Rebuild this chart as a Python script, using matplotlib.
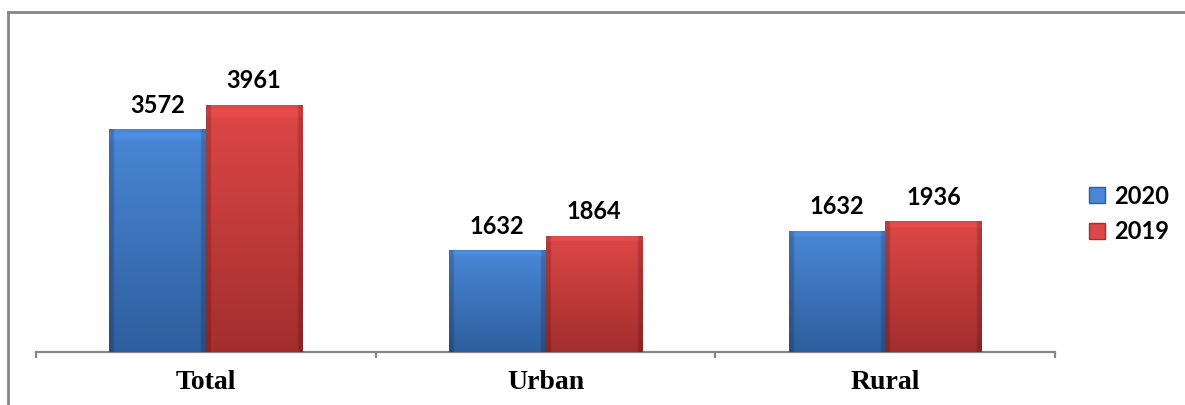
import numpy as np
import matplotlib.pyplot as plt
from matplotlib.lines import Line2D
from matplotlib.patches import Patch

categories = ["Total", "Urban", "Rural"]
years = ["2020", "2019"]
values_2020 = [3572, 1632, 1940]
values_2019 = [3961, 1864, 2097]
labels_2020 = ["3572", "1632", "1632"]
labels_2019 = ["3961", "1864", "1936"]

W, H = 1185, 405
fig = plt.figure(figsize=(W / 100, H / 100), dpi=100)
ax = fig.add_axes([36 / W, (H - 352) / H, (1055 - 36) / W, (352 - 20) / H])

top_cols = {"2020": (0.29, 0.53, 0.84), "2019": (0.87, 0.28, 0.28)}
bot_cols = {"2020": (0.18, 0.37, 0.62), "2019": (0.64, 0.18, 0.18)}


def gradient(top, bot):
    t = np.linspace(0, 1, 60)[:, None, None]
    img = np.array(top)[None, None, :] * (1 - t) + np.array(bot)[None, None, :] * t
    img = np.repeat(img, 40, axis=1)
    # darker side edges for the bevel look
    sx = np.ones(40)
    sx[:2] = 0.82
    sx[-2:] = 0.82
    img = img * sx[None, :, None]
    img[1:3] = np.clip(img[1:3] * 1.06, 0, 1)
    return np.clip(img, 0, 1)


x = np.arange(len(categories))
bw = 0.284
for vals, labs, yr, off in [(values_2020, labels_2020, "2020", -bw / 2),
                             (values_2019, labels_2019, "2019", bw / 2)]:
    bars = ax.bar(x + off, vals, bw, color=top_cols[yr], edgecolor="none", zorder=2)
    img = gradient(top_cols[yr], bot_cols[yr])
    for b, lab in zip(bars, labs):
        x0, y0, w, h = b.get_x(), b.get_y(), b.get_width(), b.get_height()
        im = ax.imshow(img, extent=[x0, x0 + w, y0, y0 + h], aspect="auto",
                       origin="upper", zorder=3, interpolation="bilinear")
        im.set_clip_path(b)
        ax.text(x0 + w / 2, h + 200, lab, ha="center", va="bottom",
                fontsize=17, fontweight="bold", family="Lato")

ax.set_xlim(-0.5, 2.5)
ax.set_ylim(0, 5320)
for s in ["top", "right", "left"]:
    ax.spines[s].set_visible(False)
ax.spines["bottom"].set_color("#868686")
ax.spines["bottom"].set_linewidth(1.6)
ax.set_yticks([])
ax.set_xticks(x)
ax.set_xticklabels(categories, family="Liberation Serif", fontweight="bold", fontsize=20)
ax.tick_params(axis="x", which="major", length=0, pad=13)
ax.set_xticks([-0.5, 0.5, 1.5, 2.5], minor=True)
ax.tick_params(axis="x", which="minor", length=4.5, width=1.6, color="#868686", direction="out")

handles = [Patch(facecolor=top_cols[y], edgecolor=bot_cols[y]) for y in years]
leg = fig.legend(handles, years, loc="center left", bbox_to_anchor=(1068 / W, 1 - 214 / H),
                 frameon=False, prop={"family": "Lato", "weight": "bold", "size": 17},
                 handlelength=0.65, handleheight=0.65, handletextpad=0.4, labelspacing=0.55)

# outer frame (cropped at right and bottom)
fig.add_artist(Line2D([8 / W, 1], [1 - 12 / H, 1 - 12 / H], color="#868686", lw=2,
                      transform=fig.transFigure))
fig.add_artist(Line2D([8 / W, 8 / W], [0, 1 - 12 / H], color="#868686", lw=2,
                      transform=fig.transFigure))

fig.savefig("out.png", dpi=100)
